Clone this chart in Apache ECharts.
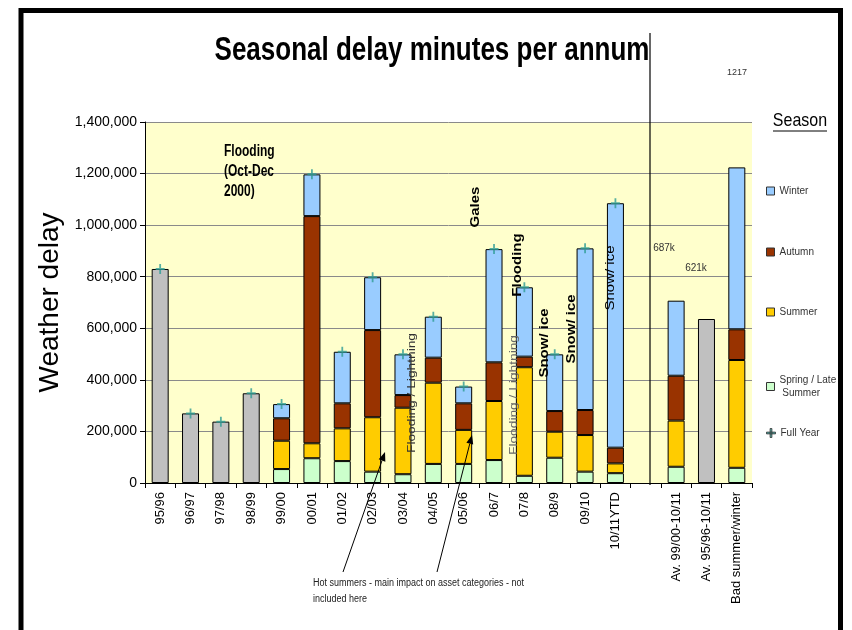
<!DOCTYPE html>
<html><head><meta charset="utf-8">
<script src="https://cdn.jsdelivr.net/npm/echarts/dist/echarts.min.js"></script>
<style>html,body{margin:0;padding:0;background:#fff}#c{width:852px;height:630px}</style>
</head><body><div id="c"></div>
<script>
const categories = ['95/96','96/97','97/98','98/99','99/00','00/01','01/02','02/03','03/04','04/05','05/06','06/7','07/8','08/9','09/10','10/11YTD','','Av. 99/00-10/11','Av. 95/96-10/11','Bad summer/winter'];
const spring = [null,null,null,null,54000,96000,85000,44000,34000,74000,74000,89000,28000,98000,44000,38000,null,63000,null,59000];
const summer = [null,null,null,null,110000,58000,127000,211000,258000,315000,132000,229000,421000,101000,142000,38000,null,179000,null,418000];
const autumn = [null,null,null,null,87000,881000,97000,338000,49000,97000,103000,150000,41000,80000,97000,61000,null,174000,null,119000];
const winter = [null,null,null,null,55000,162000,200000,205000,158000,159000,65000,439000,269000,220000,627000,948000,null,291000,null,628000];
const annualOnly = [830000,270000,238000,348000,null,null,null,null,null,null,null,null,null,null,null,null,null,null,636000,null];
const fullYear = [830000,270000,238000,348000,306000,1197000,509000,798000,499000,645000,374000,907000,759000,499000,910000,1085000,null,null,null,null];
const yTicks = {min:0, max:1400000, interval:200000};

const FONT = '"Liberation Sans", Arial, sans-serif';
const chart = echarts.init(document.getElementById('c'), null, {renderer:'canvas'});
const barBase = {type:'bar', stack:'s', barWidth:'56%', itemStyle:{borderColor:'#000', borderWidth:1}};
const plus = 'path://M4,0h2v10h-2z M0,4h10v2h-10z';

function legendAt(name, top, extra) {
  return Object.assign({
    orient:'vertical', left:766, top:top, padding:0, data:[name], itemWidth:8, itemHeight:8, icon:'rect',
    textStyle:{fontSize:10, color:'#333', fontFamily:FONT},
    itemStyle:{borderColor:'#333', borderWidth:1}
  }, extra||{});
}

function arrow(x1,y1,x2,y2){
  const dx=x2-x1, dy=y2-y1, L=Math.sqrt(dx*dx+dy*dy), ux=dx/L, uy=dy/L, px=-uy, py=ux;
  const hl=9, hw=3.5, bx=x2-ux*hl, by=y2-uy*hl;
  return [
    {type:'line', z:100, shape:{x1:x1,y1:y1,x2:bx,y2:by}, style:{stroke:'#000', lineWidth:1}},
    {type:'polygon', z:100, shape:{points:[[x2,y2],[bx+px*hw,by+py*hw],[bx-px*hw,by-py*hw]]}, style:{fill:'#000'}}
  ];
}

function vtext(text,x,y,font,color,sx){
  return {type:'text', z:100, x:x, y:y, rotation:Math.PI/2, scaleX:sx||1.25, style:{text:text, font:font, fill:color||'#000', textAlign:'center', textVerticalAlign:'middle'}};
}
function htext(text,x,y,font,color,align,sy,extra){
  return {type:'text', z:100, x:x, y:y, scaleY:sy||1, style:Object.assign({text:text, font:font, fill:color, textAlign:align||'center', textVerticalAlign:'middle'}, extra||{})};
}

const graphics = [
  {type:'polyline', z:100, shape:{points:[[21,632],[21,10.5],[840.5,10.5],[840.5,632]]}, style:{stroke:'#000', lineWidth:5, fill:null}},
  {type:'line', z:100, shape:{x1:650,y1:33,x2:650,y2:485}, style:{stroke:'#000', lineWidth:1.2}},
  htext('Seasonal delay minutes per annum',432,51,'bold 26px '+FONT,'#000','center',1.28),
  htext('1217',737,73,'9px '+FONT,'#333'),
  htext('Season',800,121,'16px '+FONT,'#000','center',1.2),
  {type:'line', z:100, shape:{x1:773,y1:131,x2:827,y2:131}, style:{stroke:'#000', lineWidth:1}},
  htext('Flooding\n(Oct-Dec\n2000)',224,172,'bold 12px '+FONT,'#000','left',1.3,{lineHeight:15.5}),
  vtext('Gales',476,207,'bold 12px '+FONT,'#000'),
  vtext('Flooding',518,265,'bold 12px '+FONT,'#000'),
  vtext('Snow/ ice',545,343,'bold 12px '+FONT,'#000'),
  vtext('Snow/ ice',572,329,'bold 12px '+FONT,'#000'),
  vtext('Snow/ ice',611,278,'12px '+FONT,'#000'),
  vtext('Flooding / Lightning',412,393,'11px '+FONT,'#333'),
  vtext('Flooding / Lightning',514,395,'11px '+FONT,'#666'),
  htext('687k',664,248,'10px '+FONT,'#333'),
  htext('621k',696,268,'10px '+FONT,'#333'),
  htext('Hot summers - main impact on asset categories - not\nincluded here',313,591,'9px '+FONT,'#222','left',1.25,{lineHeight:13})
].concat(arrow(343,572,385,452)).concat(arrow(437,572,472,435));

chart.setOption({
  animation:false,
  backgroundColor:'#fff',
  grid:{left:145, right:100, top:122, bottom:147, show:true, backgroundColor:'#FFFFCC', borderWidth:0},
  legend:[
    legendAt('Winter',186),
    legendAt('Autumn',247),
    legendAt('Summer',307),
    legendAt('Spring / Late Summer',367,{formatter:function(){return 'Spring / Late\n Summer';}, textStyle:{fontSize:10,color:'#333',fontFamily:FONT,lineHeight:13,padding:[13,0,0,0]}}),
    legendAt('Full Year',428,{itemWidth:9,itemHeight:9,icon:plus})
  ],
  xAxis:{type:'category', data:categories,
    axisLine:{lineStyle:{color:'#000'}},
    axisTick:{show:true, length:5, lineStyle:{color:'#000'}},
    axisLabel:{rotate:90, interval:0, fontSize:13, color:'#000', fontFamily:FONT, margin:9}},
  yAxis:{type:'value', min:yTicks.min, max:yTicks.max, interval:yTicks.interval,
    name:'Weather delay', nameLocation:'middle', nameGap:75, nameRotate:90,
    nameTextStyle:{fontSize:28, color:'#000', fontFamily:FONT},
    axisLine:{show:true, lineStyle:{color:'#000'}},
    axisTick:{show:true, length:5, lineStyle:{color:'#000'}},
    axisLabel:{fontSize:14, color:'#000', fontFamily:FONT, margin:8, formatter:function(v){return v.toLocaleString('en-US');}},
    splitLine:{lineStyle:{color:'#8a8a8a', width:1}}},
  series:[
    Object.assign({name:'Spring / Late Summer', data:spring, color:'#CCFFCC'}, barBase),
    Object.assign({name:'Summer', data:summer, color:'#FFCC00'}, barBase),
    Object.assign({name:'Autumn', data:autumn, color:'#993300'}, barBase),
    Object.assign({name:'Winter', data:winter, color:'#99CCFF'}, barBase),
    Object.assign({name:'Annual', data:annualOnly, color:'#C0C0C0'}, barBase),
    {name:'Full Year', type:'scatter', data:fullYear, symbol:plus, symbolSize:[9,10], itemStyle:{color:'#2E9C95'}, z:5}
  ],
  graphic:graphics
});
</script></body></html>
